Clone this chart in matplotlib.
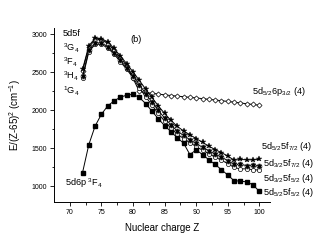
import matplotlib
matplotlib.use("Agg")
import matplotlib.pyplot as plt
import matplotlib.ticker as mticker
import numpy as np

plt.rcParams['font.family'] = ['Liberation Sans', 'DejaVu Sans']
plt.rcParams['mathtext.fontset'] = 'custom'
plt.rcParams['mathtext.rm'] = 'Liberation Sans'
plt.rcParams['mathtext.it'] = 'Liberation Sans:italic'

# nuclear charge Z
z = list(range(72, 101))

# 5d5/2 5f7/2 (stars)
stars = [2540, 2850, 2950, 2945, 2900, 2815, 2715, 2615, 2505, 2395, 2280, 2170,
         2060, 1960, 1870, 1790, 1730, 1680, 1630, 1580, 1530, 1485, 1445, 1400,
         1345, 1355, 1350, 1350, 1355]
# 5d3/2 5f7/2 (asterisk in circle)
aster = [2450, 2790, 2890, 2885, 2840, 2760, 2660, 2560, 2450, 2340, 2220, 2110,
         2000, 1900, 1810, 1730, 1670, 1615, 1565, 1515, 1470, 1425, 1385, 1340,
         1290, 1290, 1275, 1280, 1265]
# 5d3/2 5f5/2 (open circles)
circles = [2420, 2770, 2870, 2870, 2820, 2740, 2640, 2540, 2430, 2300, 2180, 2070,
           1960, 1860, 1770, 1690, 1630, 1575, 1525, 1475, 1430, 1385, 1345, 1300,
           1250, 1230, 1232, 1220, 1215]
# 5d5/2 6p3/2 (open diamonds)
diamonds = [2520, 2830, 2935, 2930, 2880, 2790, 2690, 2590, 2420, 2250, 2235, 2226,
            2215, 2205, 2196, 2188, 2180, 2172, 2164, 2155, 2146, 2137, 2128, 2118,
            2108, 2098, 2088, 2078, 2068]
# 5d6p 3F4 -> 5d5/2 5f5/2 (filled squares)
squares = [1180, 1550, 1795, 1950, 2060, 2125, 2175, 2200, 2213, 2170, 2090, 1990,
           1890, 1800, 1720, 1640, 1570, 1420, 1480, 1420, 1350, 1290, 1220, 1150,
           1075, 1070, 1060, 1020, 935]

fig = plt.figure(figsize=(3.2, 2.45), dpi=100)
ax = fig.add_axes([0.170, 0.177, 0.674, 0.709])

lw = 0.7
ms = 3
ax.plot(z, diamonds, color='black', lw=lw, marker='D', ms=ms - 0.4, mfc='white', mec='black', mew=0.5)
ax.plot(z, circles, color='black', lw=lw, marker='o', ms=ms, mfc='white', mec='black', mew=0.5)
ax.plot(z, aster, color='black', lw=lw, marker='o', ms=ms + 0.5, mfc='white', mec='black', mew=0.5)
ax.plot(z, aster, ls='none', marker=(6, 2, 0), ms=ms, mec='black', mew=0.5)
ax.plot(z, stars, color='black', lw=lw, marker='*', ms=ms + 1, mfc='black', mec='black', mew=0.3)
ax.plot(z, squares, color='black', lw=lw, marker='s', ms=ms, mfc='black', mec='black')

ax.set_xlim(67.55, 101.7)
ax.set_ylim(800, 3085)
ax.xaxis.set_major_locator(mticker.MultipleLocator(5))
ax.xaxis.set_minor_locator(mticker.MultipleLocator(2.5))
ax.yaxis.set_major_locator(mticker.MultipleLocator(500))
ax.yaxis.set_minor_locator(mticker.MultipleLocator(250))
ax.tick_params(which='major', direction='out', length=3, width=0.6, labelsize=5, pad=2)
ax.tick_params(which='minor', direction='out', length=1.8, width=0.6)
ax.spines['top'].set_visible(False)
ax.spines['right'].set_visible(False)
ax.spines['left'].set_linewidth(0.7)
ax.spines['bottom'].set_linewidth(0.7)

ax.set_xlabel('Nuclear charge Z', fontsize=7, labelpad=5)
ax.set_ylabel(r'E/(Z-65)$^2$ (cm$^{-1}$)', fontsize=7, labelpad=6)

fs = 6.6
left_labels = ['5d5f', r'$^3$G$_4$', r'$^3$F$_4$', r'$^3$H$_4$', r'$^1$G$_4$']
left_y = [3009, 2815, 2630, 2442, 2245]
for lab, yy in zip(left_labels, left_y):
    ax.text(68.9, yy, lab, fontsize=fs, va='center', ha='left')

ax.text(80.5, 2930, '(b)', fontsize=fs, va='center', ha='center')
ax.text(69.2, 1037, r'5d6p $^3$F$_4$', fontsize=fs, va='center', ha='left')

right_labels = [r'5d$_{5/2}$6p$_{3/2}$ (4)', r'5d$_{5/2}$5f$_{7/2}$ (4)',
                r'5d$_{3/2}$5f$_{7/2}$ (4)', r'5d$_{3/2}$5f$_{5/2}$ (4)',
                r'5d$_{5/2}$5f$_{5/2}$ (4)']
right_x = [98.9, 100.3, 100.5, 100.5, 100.5]
right_y = [2247, 1520, 1301, 1103, 926]
for lab, xx, yy in zip(right_labels, right_x, right_y):
    ax.text(xx, yy, lab, fontsize=fs, va='center', ha='left', clip_on=False)

fig.savefig('out.png', dpi=100)
